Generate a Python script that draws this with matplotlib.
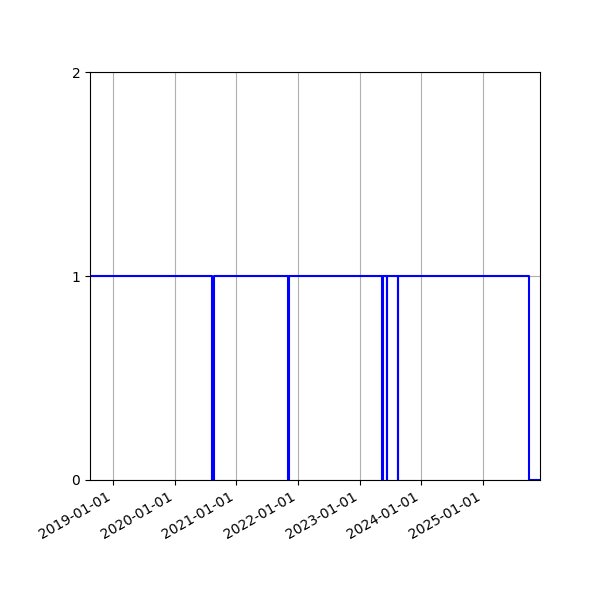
import numpy as np
import matplotlib
matplotlib.use("Agg")
import matplotlib.pyplot as plt
import matplotlib.dates as mdates

# change points of the status series (step, held until next date)
dates = np.array(["2018-08-18", "2020-08-11", "2020-08-24", "2021-11-03",
                  "2021-11-07", "2023-05-14", "2023-05-19", "2023-06-11",
                  "2023-06-13", "2023-08-16", "2023-08-18", "2025-10-01",
                  "2025-12-05"], dtype="datetime64[D]")
values = [1, 0, 1, 0, 1, 0, 1, 0, 1, 0, 1, 0, 0]

fig, ax = plt.subplots(figsize=(6, 6), dpi=100)
ax.step(dates, values, where="post", color="blue")

ax.set_xlim(dates[0], dates[-1])
ax.set_ylim(0, 2)
ax.set_yticks([0, 1, 2])
ax.xaxis.set_major_locator(mdates.YearLocator())
ax.xaxis.set_major_formatter(mdates.DateFormatter("%Y-%m-%d"))
ax.grid(True)

fig.autofmt_xdate()
fig.subplots_adjust(left=0.15)
fig.savefig("out.png")
